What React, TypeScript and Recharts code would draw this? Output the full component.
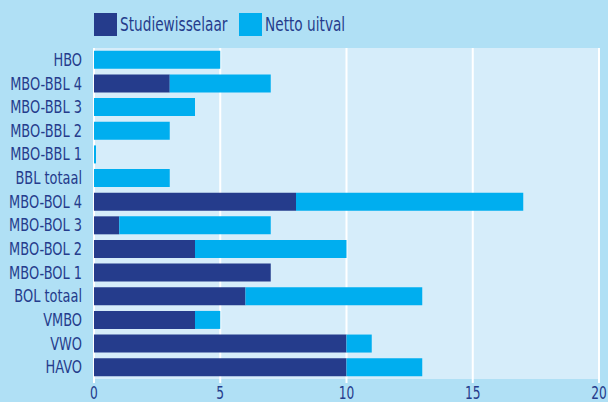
import React from 'react';
import { BarChart, Bar, XAxis, YAxis, CartesianGrid } from 'recharts';

const categories = [
  'HBO', 'MBO-BBL 4', 'MBO-BBL 3', 'MBO-BBL 2', 'MBO-BBL 1', 'BBL totaal',
  'MBO-BOL 4', 'MBO-BOL 3', 'MBO-BOL 2', 'MBO-BOL 1', 'BOL totaal',
  'VMBO', 'VWO', 'HAVO',
];
const studiewisselaar = [0, 3, 0, 0, 0, 0, 8, 1, 4, 7, 6, 4, 10, 10];
const nettoUitval = [5, 4, 4, 3, 0.08, 3, 9, 6, 6, 0, 7, 1, 1, 3];
const xTicks = [0, 5, 10, 15, 20];

const data = categories.map((name, i) => ({
  name,
  studie: studiewisselaar[i],
  netto: nettoUitval[i],
}));

const DARK = '#253c8c';
const LIGHT = '#00aeef';
const FONT = '"DejaVu Sans Condensed", "DejaVu Sans", sans-serif';
const SQUEEZE = 0.8;

// condensed tick labels (the original uses a narrow font)
const YTick = (props: any) => {
  const { x, y, payload } = props;
  return (
    <text
      transform={`translate(${x},${y}) scale(${SQUEEZE},1)`}
      textAnchor="end"
      dominantBaseline="central"
      fill={DARK}
      fontSize={18}
      fontFamily={FONT}
    >
      {payload.value}
    </text>
  );
};

const XTick = (props: any) => {
  const { x, y, payload } = props;
  return (
    <text
      transform={`translate(${x},${y + 12}) scale(${SQUEEZE},1)`}
      textAnchor="middle"
      fill={DARK}
      fontSize={17}
      fontFamily={FONT}
    >
      {payload.value}
    </text>
  );
};

const LegendItem: React.FC<{ left: number; color: string; label: string }> = ({ left, color, label }) => (
  <>
    <div style={{ position: 'absolute', left, top: 13, width: 23, height: 23, background: color }} />
    <div
      style={{
        position: 'absolute', left: left + 26, top: 12, fontSize: 19, lineHeight: '24px', color: DARK,
        whiteSpace: 'nowrap', transform: `scaleX(${SQUEEZE})`, transformOrigin: 'left center',
      }}
    >
      {label}
    </div>
  </>
);

const App: React.FC = () => (
  <div style={{ position: 'absolute', left: 0, top: 0, width: 608, height: 402, background: '#b0e0f5', overflow: 'hidden', fontFamily: FONT }}>
    <LegendItem left={94} color={DARK} label="Studiewisselaar" />
    <LegendItem left={239} color={LIGHT} label="Netto uitval" />
    <BarChart
      width={608}
      height={402}
      data={data}
      layout="vertical"
      margin={{ top: 48, right: 9, bottom: 0, left: 0 }}
      barCategoryGap="12%"
    >
      <CartesianGrid horizontal={false} stroke="#ffffff" strokeWidth={2} fill="#d6edfa" />
      <XAxis
        type="number"
        domain={[0, 20]}
        ticks={xTicks}
        axisLine={false}
        tickLine={{ stroke: '#ffffff', strokeWidth: 2 }}
        tickSize={4}
        tickMargin={4}
        height={23}
        tick={<XTick />}
        interval={0}
      />
      <YAxis
        type="category"
        dataKey="name"
        width={94}
        axisLine={false}
        tickLine={false}
        tickMargin={6}
        interval={0}
        tick={<YTick />}
      />
      <Bar dataKey="studie" stackId="a" fill={DARK} isAnimationActive={false} />
      <Bar dataKey="netto" stackId="a" fill={LIGHT} isAnimationActive={false} />
    </BarChart>
  </div>
);

export default App;
